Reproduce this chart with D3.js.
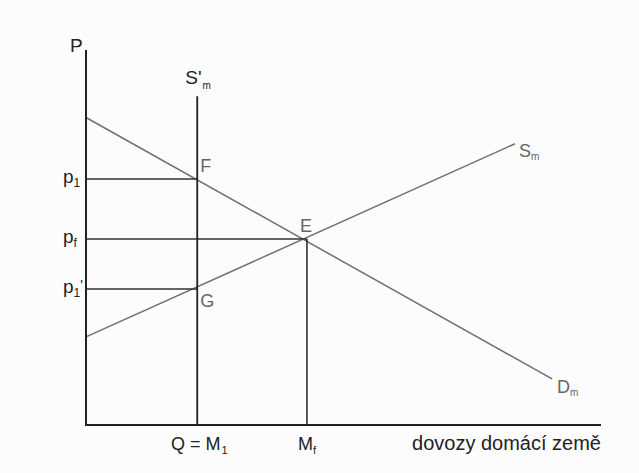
<!DOCTYPE html>
<html>
<head>
<meta charset="utf-8">
<script src="https://cdn.jsdelivr.net/npm/d3@7"></script>
<style>
  body { margin: 0; background: #fcfcfc; }
  svg { display: block; }
  text { font-family: "Liberation Sans", Arial, sans-serif; }
</style>
</head>
<body>
<div id="chart"></div>
<script>
// quantities (imports) and prices in abstract units 0..100
const demand = [[0, 82], [90.5, 12.3]];      // D_m
const supply = [[0, 23.5], [83.3, 75]];      // S_m
const quota = 21.6;                          // Q = M1
const quotaTop = 87.7;                       // top of S'_m
const freeImports = 42.9;                    // M_f
const prices = [
  {name: 'p1', value: 65.6, x: quota},
  {name: 'pf', value: 49.6, x: freeImports},
  {name: 'p1p', value: 36.3, x: quota}
];
const points = [
  {label: 'F', x: quota, y: 65.6},
  {label: 'E', x: freeImports, y: 49.6},
  {label: 'G', x: quota, y: 36.3}
];

let width = 639;
let height = 473;

let svg = d3.select('#chart').append('svg').attr('width', width).attr('height', height);

let x = d3.scaleLinear().domain([0, 100]).range([86, 601]);
let y = d3.scaleLinear().domain([0, 100]).range([425, 50]);

let lineGen = d3.line().x(d => x(d[0])).y(d => y(d[1]));

// demand and supply curves (grey)
svg.append('path').attr('d', lineGen(demand))
  .style('stroke', '#707070').style('stroke-width', 1.5).style('fill', 'none');
svg.append('path').attr('d', lineGen(supply))
  .style('stroke', '#707070').style('stroke-width', 1.5).style('fill', 'none');

// price lines
prices.forEach(p => {
  svg.append('path').attr('d', lineGen([[0, p.value], [p.x, p.value]]))
    .style('stroke', '#333').style('stroke-width', 1.5).style('fill', 'none');
});

// vertical lines
svg.append('path').attr('d', lineGen([[quota, 0], [quota, quotaTop]]))
  .style('stroke', '#222').style('stroke-width', 1.8).style('fill', 'none');
svg.append('path').attr('d', lineGen([[freeImports, 0], [freeImports, 49.6]]))
  .style('stroke', '#222').style('stroke-width', 1.5).style('fill', 'none');

// axes
svg.append('path').attr('d', lineGen([[0, 100], [0, 0], [100, 0]]))
  .style('stroke', '#222').style('stroke-width', 2).style('fill', 'none');

// axis labels
svg.append('text').attr('x', x(0) - 16).attr('y', y(100) + 2)
  .attr('font-size', 19).attr('fill', '#222').text('P');

svg.append('text').attr('x', x(100)).attr('y', y(0) + 25)
  .attr('text-anchor', 'end').attr('font-size', 20).attr('fill', '#222')
  .text('dovozy domácí země');

let qLabel = svg.append('text').attr('x', x(quota) + 2).attr('y', y(0) + 25)
  .attr('text-anchor', 'middle').attr('font-size', 18).attr('fill', '#222');
qLabel.append('tspan').text('Q = M');
qLabel.append('tspan').attr('font-size', 11).attr('dx', 1).attr('dy', 4).text('1');

let mLabel = svg.append('text').attr('x', x(freeImports)).attr('y', y(0) + 25)
  .attr('text-anchor', 'middle').attr('font-size', 18).attr('fill', '#222');
mLabel.append('tspan').text('M');
mLabel.append('tspan').attr('font-size', 11).attr('dy', 4).text('f');

// price labels
let p1 = svg.append('text').attr('x', x(0) - 23).attr('y', y(65.6) + 4)
  .attr('font-size', 19).attr('fill', '#222');
p1.append('tspan').text('p');
p1.append('tspan').attr('font-size', 12).attr('dy', 4).text('1');

let pf = svg.append('text').attr('x', x(0) - 23).attr('y', y(49.6) + 4)
  .attr('font-size', 19).attr('fill', '#222');
pf.append('tspan').text('p');
pf.append('tspan').attr('font-size', 12).attr('dy', 4).text('f');

let p1p = svg.append('text').attr('x', x(0) - 23).attr('y', y(36.3) + 4)
  .attr('font-size', 19).attr('fill', '#222');
p1p.append('tspan').text('p');
p1p.append('tspan').attr('font-size', 12).attr('dy', 4).text('1');
p1p.append('tspan').attr('font-size', 14).attr('dy', -7).text('\'');

// curve labels
let sq = svg.append('text').attr('x', x(quota) - 12).attr('y', y(quotaTop) - 12)
  .attr('font-size', 19).attr('fill', '#222');
sq.append('tspan').text('S\'');
sq.append('tspan').attr('font-size', 10).attr('dx', 1).attr('dy', 5).text('m');

let sm = svg.append('text').attr('x', x(supply[1][0]) + 4).attr('y', y(supply[1][1]) + 13)
  .attr('font-size', 18).attr('fill', '#666');
sm.append('tspan').text('S');
sm.append('tspan').attr('font-size', 10).attr('dy', 3).text('m');

let dm = svg.append('text').attr('x', x(demand[1][0]) + 5).attr('y', y(demand[1][1]) + 14)
  .attr('font-size', 18).attr('fill', '#666');
dm.append('tspan').text('D');
dm.append('tspan').attr('font-size', 10).attr('dy', 3).text('m');

// point labels
svg.selectAll('.pt').data(points).enter().append('text')
  .attr('class', 'pt')
  .attr('x', d => x(d.x) + (d.label === 'E' ? -7 : 3))
  .attr('y', d => y(d.y) + (d.label === 'G' ? 18 : -7))
  .attr('font-size', 18).attr('fill', '#666')
  .text(d => d.label);
</script>
</body>
</html>
